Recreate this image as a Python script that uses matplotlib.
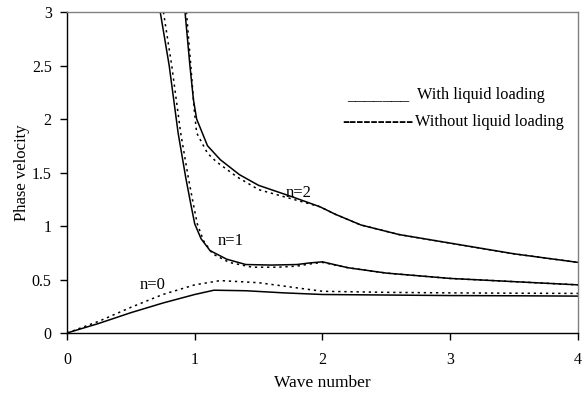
import matplotlib
matplotlib.use("Agg")
import matplotlib.pyplot as plt

plt.rcParams['font.family'] = ['Liberation Serif', 'DejaVu Serif']

# n=0
n0_with_x = [0.0, 0.25, 0.5, 0.75, 1.0, 1.15, 1.4, 1.7, 2.0, 2.5, 3.0, 3.5, 4.0]
n0_with_y = [0.0, 0.09, 0.19, 0.28, 0.36, 0.40, 0.395, 0.375, 0.36, 0.355, 0.35, 0.348, 0.345]
n0_without_x = [0.0, 0.25, 0.5, 0.75, 1.0, 1.2, 1.5, 1.75, 2.0, 2.5, 3.0, 3.5, 4.0]
n0_without_y = [0.0, 0.11, 0.24, 0.36, 0.45, 0.49, 0.47, 0.43, 0.39, 0.38, 0.375, 0.372, 0.37]

# n=1
n1_with_x = [0.73, 0.8, 0.87, 0.93, 0.97, 1.0, 1.05, 1.12, 1.25, 1.4, 1.6, 1.8, 1.9, 2.0, 2.2, 2.5, 3.0, 3.5, 4.0]
n1_with_y = [3.0, 2.5, 1.87, 1.45, 1.2, 1.02, 0.88, 0.77, 0.69, 0.64, 0.635, 0.64, 0.655, 0.665, 0.61, 0.56, 0.51, 0.48, 0.45]
n1_without_x = [0.755, 0.82, 0.89, 0.95, 0.99, 1.02, 1.07, 1.14, 1.27, 1.45, 1.65, 1.8, 1.9, 2.0, 2.2, 2.5, 3.0, 3.5, 4.0]
n1_without_y = [3.0, 2.5, 1.87, 1.45, 1.2, 1.02, 0.86, 0.74, 0.66, 0.615, 0.615, 0.625, 0.645, 0.66, 0.61, 0.56, 0.51, 0.48, 0.45]

# n=2
n2_with_x = [0.924, 0.963, 0.99, 1.015, 1.1, 1.2, 1.35, 1.5, 1.77, 1.98, 2.1, 2.3, 2.6, 3.0, 3.5, 4.0]
n2_with_y = [3.0, 2.49, 2.18, 2.0, 1.75, 1.62, 1.48, 1.38, 1.27, 1.18, 1.11, 1.01, 0.92, 0.84, 0.74, 0.66]
n2_without_x = [0.935, 0.97, 0.995, 1.015, 1.1, 1.17, 1.33, 1.5, 1.77, 1.98, 2.1, 2.3, 2.6, 3.0, 3.5, 4.0]
n2_without_y = [3.0, 2.49, 2.1, 1.87, 1.68, 1.6, 1.46, 1.34, 1.25, 1.18, 1.11, 1.01, 0.92, 0.84, 0.74, 0.66]

x_ticks = [0, 1, 2, 3, 4]
y_ticks = [0, 0.5, 1, 1.5, 2, 2.5, 3]
y_tick_labels = ['0', '0.5', '1', '1.5', '2', '2.5', '3']

fig = plt.figure(figsize=(5.86, 3.94), dpi=100)
ax = fig.add_axes([0.1143, 0.1548, 0.8720, 0.8147])

solid = dict(color='black', lw=1.1, ls='-')
dotted = dict(color='black', lw=1.1, ls=(0, (1.5, 2.5)))
for (xs, ys) in [(n0_with_x, n0_with_y), (n1_with_x, n1_with_y), (n2_with_x, n2_with_y)]:
    ax.plot(xs, ys, **solid)
for (xs, ys) in [(n0_without_x, n0_without_y), (n1_without_x, n1_without_y), (n2_without_x, n2_without_y)]:
    ax.plot(xs, ys, **dotted)

ax.set_xlim(0, 4)
ax.set_ylim(0, 3)
ax.set_xticks(x_ticks)
ax.set_xticklabels([str(v) for v in x_ticks])
ax.set_yticks(y_ticks)
ax.set_yticklabels(y_tick_labels)
ax.tick_params(direction='out', length=5, width=1, labelsize=11.5, pad=6)
ax.tick_params(axis='x', pad=9)
for s in ['top', 'right']:
    ax.spines[s].set_color('#808080')
for s in ['left', 'bottom']:
    ax.spines[s].set_color('black')
for s in ax.spines.values():
    s.set_linewidth(1.0)

ax.set_xlabel('Wave number', fontsize=12.5, labelpad=5)
ax.set_ylabel('Phase velocity', fontsize=12, labelpad=1)

ax.text(1.81, 1.31, 'n=2', fontsize=12, ha='center', va='center')
ax.text(1.28, 0.86, 'n=1', fontsize=12, ha='center', va='center')
ax.text(0.67, 0.45, 'n=0', fontsize=12, ha='center', va='center')

ax.text(0.548, 0.741, '_______', transform=ax.transAxes, fontsize=12.8, ha='left', va='center')
ax.text(0.685, 0.741, 'With liquid loading', transform=ax.transAxes, fontsize=11.8, ha='left', va='center')
ax.text(0.538, 0.657, '----------', transform=ax.transAxes, fontsize=15.5, ha='left', va='center')
ax.text(0.681, 0.657, 'Without liquid loading', transform=ax.transAxes, fontsize=11.8, ha='left', va='center')

fig.savefig('out.png', dpi=100)
